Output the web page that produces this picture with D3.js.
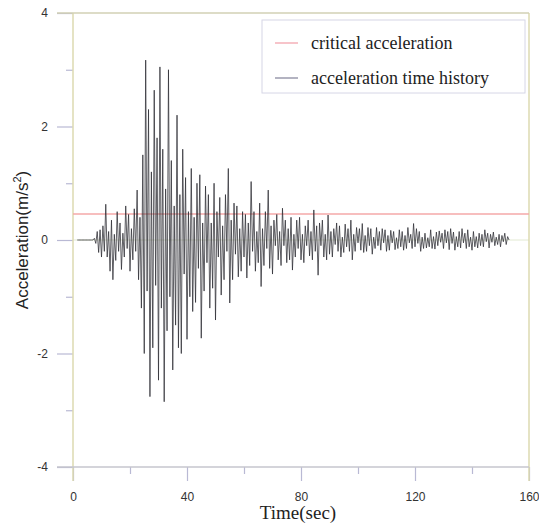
<!DOCTYPE html>
<html>
<head>
<meta charset="utf-8">
<script src="https://cdn.jsdelivr.net/npm/d3@7"></script>
<style>
    body { margin: 0; background: #fff; }
    svg { display: block; }
</style>
</head>
<body>
<div id="chart"></div>
<script>
// chart data
const sampleStart = 1.5;   // sec, first sample of the record
const sampleStep = 0.5;    // sec between samples
const accelValues = [
    0, 0, 0, 0, 0, 0, 0, 0, 0, 0,
    0, 0, 0.03, -0.06, 0.15, -0.22, 0.18, -0.3, 0.25, -0.2,
    0.63, -0.3, 0.15, -0.55, 0.35, -0.7, 0.1, -0.36, 0.5, -0.2,
    0.3, -0.52, 0.12, -0.3, 0.6, -0.15, 0.45, -0.55, 0.2, -0.35,
    0.55, -0.2, 0.88, -0.7, 0.4, -1.2, 1.5, -2.0, 3.17, -0.9,
    2.3, -2.76, 1.2, -1.9, 2.64, -0.8, 1.8, -2.47, 3.05, -1.2,
    1.6, -2.85, 0.9, -1.6, 3.0, -1.0, 1.4, -2.29, 0.6, -1.5,
    2.2, -1.9, 0.8, -2.0, 1.6, -0.6, 1.1, -1.75, 0.5, -1.0,
    1.26, -1.26, 0.4, -1.1, 1.0, -0.5, 1.15, -1.73, 0.3, -0.9,
    0.95, -0.4, 0.8, -1.2, 0.3, -0.85, 1.0, -1.41, 0.5, -0.3,
    0.75, -0.97, 0.25, -0.7, 0.8, -0.2, 1.26, -1.11, 0.35, -0.7,
    0.65, -0.25, 0.6, -0.65, 0.2, -0.55, 0.5, -0.3, 0.45, -0.67,
    0.3, -0.45, 1.03, -0.2, 0.5, -0.55, 0.15, -0.4, 0.65, -0.82,
    0.2, -0.45, 0.5, -0.15, 0.88, -0.5, 0.25, -0.6, 0.35, -0.1,
    0.45, -0.35, 0.15, -0.45, 0.56, -0.1, 0.35, -0.4, 0.2, -0.35,
    0.4, -0.53, 0.1, -0.3, 0.35, -0.15, 0.4, -0.35, 0.1, -0.4,
    0.25, -0.1, 0.35, -0.28, 0.15, -0.35, 0.53, -0.2, 0.25, -0.62,
    0.3, -0.1, 0.35, -0.3, 0.1, -0.35, 0.44, -0.25, 0.15, -0.3,
    0.2, -0.08, 0.3, -0.2, 0.25, -0.3, 0.05, -0.22, 0.28, -0.12,
    0.2, -0.2, 0.35, -0.35, 0.1, -0.2, 0.22, -0.05, 0.2, -0.18,
    0.29, -0.22, 0.08, -0.2, 0.22, -0.1, 0.2, -0.25, 0.05, -0.15,
    0.22, -0.1, 0.15, -0.18, 0.2, -0.05, 0.18, -0.2, 0.08, -0.18,
    0.17, -0.05, 0.15, -0.17, 0.04, -0.15, 0.18, -0.12, 0.15, -0.18,
    0.08, -0.15, 0.22, -0.05, 0.1, -0.15, 0.29, -0.12, 0.2, -0.06,
    0.15, -0.2, 0.05, -0.15, 0.12, -0.14, 0.04, -0.12, 0.18, -0.15,
    0.06, -0.16, 0.14, -0.1, 0.16, -0.04, 0.12, -0.15, 0.18, -0.05,
    0.15, -0.17, 0.2, -0.06, 0.14, -0.18, 0.06, -0.12, 0.15, -0.14,
    0.2, -0.05, 0.12, -0.15, 0.18, -0.12, 0.05, -0.18, 0.15, -0.12,
    0.06, -0.14, 0.12, -0.1, 0.1, -0.12, 0.18, -0.03, 0.12, -0.14,
    0.1, -0.04, 0.14, -0.1, 0.05, -0.08, 0.1, -0.12, 0.08, -0.03,
    0.12, -0.08, 0.06, 0
];
const criticalAccel = 0.46;
const xMajorTicks = [0, 40, 80, 120, 160];
const xMinorTicks = [20, 60, 100, 140];
const yMajorTicks = [-4, -2, 0, 2, 4];
const yMinorTicks = [-3, -1, 1, 3];
const legendLabels = ["critical acceleration", "acceleration time history"];

// size and plot box
const width = 539,
    height = 523,
    plotLeft = 73,
    plotRight = 529,
    plotTop = 13,
    plotBottom = 467;

const frameColor = "#dcdab0",
    tickColor = "#b9b9d4",
    serif = "'Liberation Serif', 'Times New Roman', serif",
    sans = "'Liberation Sans', Arial, sans-serif";

const x = d3.scaleLinear().domain([0, 160]).range([plotLeft, plotRight]);
const y = d3.scaleLinear().domain([-4, 4]).range([plotBottom, plotTop]);

// plain hyphen minus, as in the original figure
const plainNumber = d => String(d);

const svg = d3.select("#chart").append("svg")
    .attr("width", width)
    .attr("height", height)
    .attr("viewBox", `0 0 ${width} ${height}`);

// zero reference line
svg.append("line")
    .attr("x1", x(0)).attr("x2", x(160))
    .attr("y1", y(0)).attr("y2", y(0))
    .attr("stroke", "#e2e9d2")
    .attr("stroke-width", 1);

// y axis: major ticks with labels, minor ticks without
svg.append("g")
    .attr("transform", `translate(${plotLeft},0)`)
    .call(d3.axisLeft(y).tickValues(yMajorTicks).tickSize(16).tickPadding(9).tickFormat(plainNumber));
svg.append("g")
    .attr("transform", `translate(${plotLeft},0)`)
    .call(d3.axisLeft(y).tickValues(yMinorTicks).tickSize(7).tickFormat(""));

// x axis
svg.append("g")
    .attr("transform", `translate(0,${plotBottom})`)
    .call(d3.axisBottom(x).tickValues(xMajorTicks).tickSize(14).tickPadding(11).tickFormat(plainNumber));
svg.append("g")
    .attr("transform", `translate(0,${plotBottom})`)
    .call(d3.axisBottom(x).tickValues(xMinorTicks).tickSize(7).tickFormat(""));

// axis styling
svg.selectAll(".domain").remove();
svg.selectAll(".tick line").attr("stroke", tickColor).attr("stroke-width", 1.2);
svg.selectAll(".tick text")
    .attr("fill", "#333")
    .style("font-family", sans)
    .style("font-size", "12px");

// frame around the plot
svg.append("line").attr("x1", plotLeft).attr("x2", plotLeft).attr("y1", plotTop).attr("y2", plotBottom + 14)
    .attr("stroke", frameColor).attr("stroke-width", 1.5);
svg.append("line").attr("x1", plotRight).attr("x2", plotRight).attr("y1", plotTop).attr("y2", plotBottom + 14)
    .attr("stroke", frameColor).attr("stroke-width", 1.5);
svg.append("line").attr("x1", plotLeft - 16).attr("x2", plotRight).attr("y1", plotTop).attr("y2", plotTop)
    .attr("stroke", "#d2d1b4").attr("stroke-width", 1.5);
svg.append("line").attr("x1", plotLeft - 16).attr("x2", plotRight).attr("y1", plotBottom).attr("y2", plotBottom)
    .attr("stroke", "#c6c6ce").attr("stroke-width", 1.5);

// critical acceleration line
svg.append("line")
    .attr("x1", x(0)).attr("x2", x(160))
    .attr("y1", y(criticalAccel)).attr("y2", y(criticalAccel))
    .attr("stroke", "#f4a9a9")
    .attr("stroke-width", 1.5);

// acceleration time history
const line = d3.line()
    .x((d, i) => x(sampleStart + i * sampleStep))
    .y(d => y(d));

svg.append("path")
    .datum(accelValues)
    .attr("fill", "none")
    .attr("stroke", "#2e2e34")
    .attr("stroke-opacity", 0.85)
    .attr("stroke-width", 0.9)
    .attr("d", line);

// legend
const legend = svg.append("g");
legend.append("rect")
    .attr("x", 262).attr("y", 20)
    .attr("width", 263).attr("height", 73)
    .attr("fill", "#fff")
    .attr("stroke", "#d6d6e6");
const legendColors = ["#f4b0b8", "#9a9aad"];
legendLabels.forEach((label, i) => {
    const ly = 43 + i * 35;
    legend.append("line")
        .attr("x1", 275).attr("x2", 298)
        .attr("y1", ly).attr("y2", ly)
        .attr("stroke", legendColors[i])
        .attr("stroke-width", 1.5);
    legend.append("text")
        .attr("x", 311).attr("y", ly + 6)
        .attr("fill", "#222")
        .style("font-family", serif)
        .style("font-size", "18px")
        .text(label);
});

// axis titles
const yTitle = svg.append("text")
    .attr("transform", `translate(28,${(plotTop + plotBottom) / 2}) rotate(-90)`)
    .attr("text-anchor", "middle")
    .attr("fill", "#222")
    .style("font-family", sans)
    .style("font-size", "17px");
yTitle.append("tspan").text("Acceleration(m/s");
yTitle.append("tspan").attr("dy", -7).style("font-size", "11px").text("2");
yTitle.append("tspan").attr("dy", 7).text(")");

svg.append("text")
    .attr("x", 298).attr("y", 519)
    .attr("text-anchor", "middle")
    .attr("fill", "#222")
    .style("font-family", serif)
    .style("font-size", "19px")
    .text("Time(sec)");
</script>
</body>
</html>
